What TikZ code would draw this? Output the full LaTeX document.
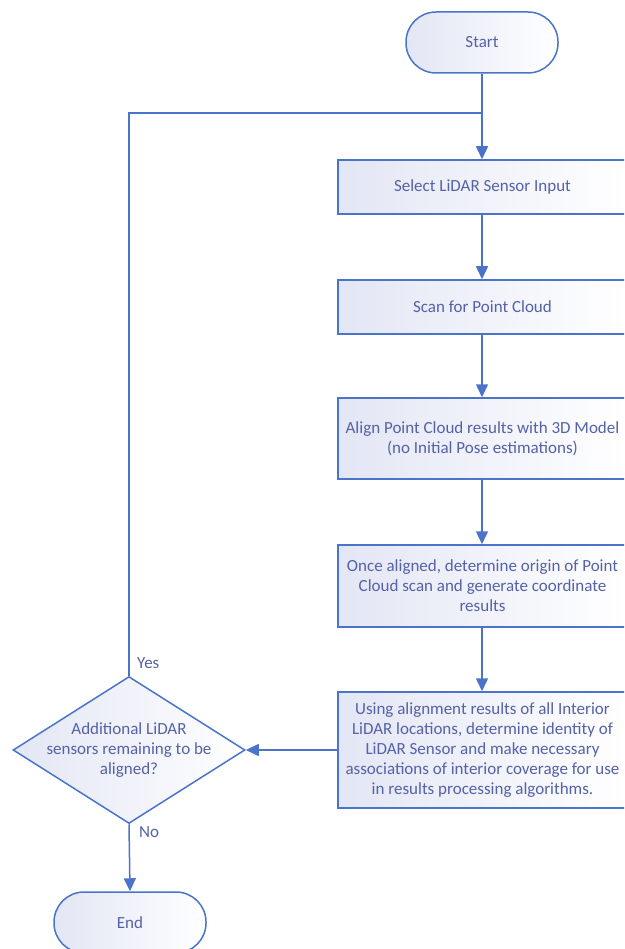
\documentclass[tikz,border=0pt]{standalone}
\usepackage{fontspec}
\setmainfont{Carlito}
\usetikzlibrary{shapes.geometric,arrows.meta}
\definecolor{lineblue}{HTML}{4A74C9}
\definecolor{txtblue}{HTML}{5561A8}
\definecolor{fillblue}{HTML}{E3E6F4}
\begin{document}
\begin{tikzpicture}[x=1pt,y=-1pt,
  every node/.style={font=\fontsize{17}{20}\selectfont, text=txtblue},
  shapebase/.style={draw=lineblue, line width=1.5pt, left color=fillblue, right color=white, inner sep=0pt},
  procbox/.style={shapebase, rectangle, minimum width=289pt, align=center},
  termbox/.style={shapebase, rectangle, rounded corners=30pt, minimum width=152pt, minimum height=61pt},
  decbox/.style={shapebase, diamond, minimum width=232pt, minimum height=147pt},
  flow/.style={draw=lineblue, line width=1.5pt},
  arr/.style={flow, -{Triangle[width=12pt,length=13pt]}},
  lbl/.style={anchor=west, inner sep=0pt}
]
\useasboundingbox (0,0) rectangle (624,949);
\clip (0,0) rectangle (624,949);

\node[termbox] (start) at (482,42.5) {Start};
\node[procbox, minimum height=54pt] (b1) at (482.5,187) {Select LiDAR Sensor Input};
\node[procbox, minimum height=54pt] (b2) at (482.5,307) {Scan for Point Cloud};
\node[procbox, minimum height=81pt] (b3) at (482.5,438.5) {Align Point Cloud results with 3D Model\\(no Initial Pose estimations)};
\node[procbox, minimum height=82pt] (b4) at (482.5,586) {Once aligned, determine origin of Point\\Cloud scan and generate coordinate\\results};
\node[procbox, minimum height=116pt] (b5) at (482.5,750) {Using alignment results of all Interior\\LiDAR locations, determine identity of\\LiDAR Sensor and make necessary\\associations of interior coverage for use\\in results processing algorithms.};
\node[decbox] (dec) at (129,750) {};
\node[align=center] (dectext) at (dec.center) {Additional LiDAR\\sensors remaining to be\\aligned?};
\node[termbox] (end) at (130,922.5) {End};

\coordinate (loopup) at (129,113);
\coordinate (join) at (482,113);

\draw[arr] (start.south) -- (b1.north -| start.south);
\draw[arr] (b1.south -| start.south) -- (b2.north -| start.south);
\draw[arr] (b2.south -| start.south) -- (b3.north -| start.south);
\draw[arr] (b3.south -| start.south) -- (b4.north -| start.south);
\draw[arr] (b4.south -| start.south) -- (b5.north -| start.south);
\draw[arr] (b5.west) -- (dec.east);
\draw[flow] (dec.north) -- (loopup) -- (join);
\draw[arr] (dec.south) -- (end.north);

\node[lbl] (yes) at (137,663) {Yes};
\node[lbl] (no) at (139,832) {No};
\end{tikzpicture}
\end{document}
